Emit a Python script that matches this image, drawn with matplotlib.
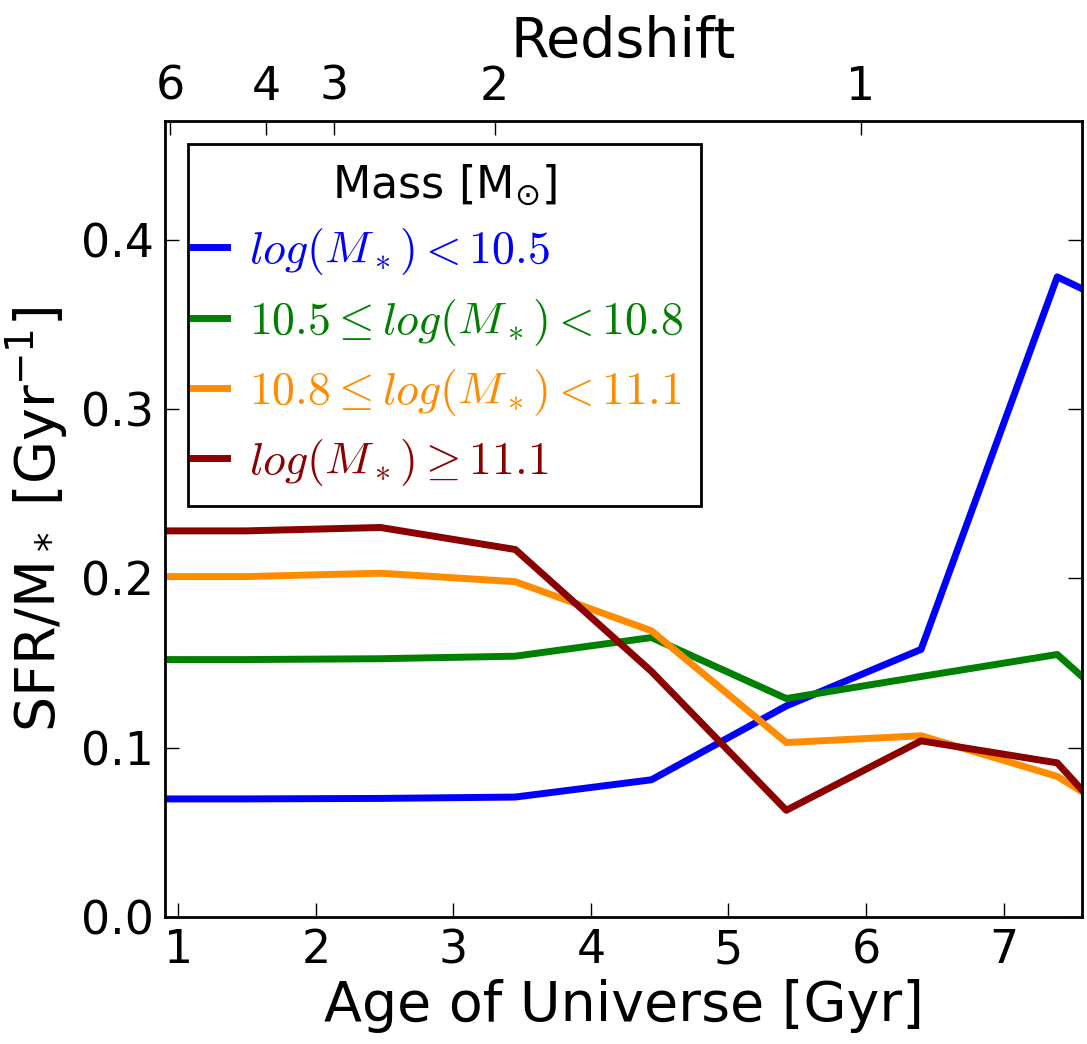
import matplotlib
matplotlib.use('Agg')
import matplotlib.pyplot as plt
from matplotlib.font_manager import FontProperties

# Age of universe at each bin (Gyr)
age = [0.905, 1.49, 2.47, 3.45, 4.44, 5.42, 6.40, 7.39, 7.57]

# specific SFR per mass bin (Gyr^-1)
ssfr_low = [0.0697, 0.0697, 0.0700, 0.0708, 0.081, 0.1246, 0.158, 0.378, 0.371]
ssfr_mid1 = [0.152, 0.152, 0.1525, 0.154, 0.165, 0.129, 0.142, 0.155, 0.142]
ssfr_mid2 = [0.201, 0.201, 0.203, 0.198, 0.169, 0.103, 0.107, 0.083, 0.074]
ssfr_high = [0.228, 0.228, 0.230, 0.217, 0.145, 0.063, 0.104, 0.091, 0.075]

labels = [r'$log(M_*) < 10.5$',
          r'$10.5 \leq log(M_*) < 10.8$',
          r'$10.8 \leq log(M_*) < 11.1$',
          r'$log(M_*) \geq 11.1$']
colors = ['#0000ff', '#008000', '#ff8c00', '#8b0000']

# redshift ticks for the top axis
z_labels = ['6', '4', '3', '2', '1']
z_ages = [0.94, 1.64, 2.13, 3.30, 5.96]

fig = plt.figure(figsize=(10.87, 10.44), dpi=100)
ax = fig.add_axes([0.152, 0.1217, 0.8434, 0.7623])

for y, lab, c in zip([ssfr_low, ssfr_mid1, ssfr_mid2, ssfr_high], labels, colors):
    ax.plot(age, y, color=c, lw=5, label=lab)

ax.set_xlim(0.905, 7.57)
ax.set_ylim(0, 0.47)
ax.set_xticks([1, 2, 3, 4, 5, 6, 7])
ax.set_yticks([0.0, 0.1, 0.2, 0.3, 0.4])
ax.tick_params(direction='in', length=10, width=1, labelsize=33, right=True, pad=8)
ax.set_xlabel('Age of Universe [Gyr]', fontsize=40, labelpad=4)
ax.set_ylabel(r'SFR/M$_*$ [Gyr$^{-1}$]', fontsize=40, labelpad=8)
for s in ax.spines.values():
    s.set_linewidth(2)

ax2 = ax.twiny()
ax2.set_xlim(ax.get_xlim())
ax2.set_xticks(z_ages)
ax2.set_xticklabels(z_labels)
ax2.tick_params(direction='in', length=10, width=1, labelsize=33, pad=8)
ax2.set_xlabel('Redshift', fontsize=40, labelpad=6)

prop = FontProperties(size=33, math_fontfamily='cm')
leg = ax.legend(loc='upper left', prop=prop, title=r'Mass [M$_{\odot}$]',
                title_fontsize=32, fancybox=False, handlelength=0.75,
                handletextpad=0.17, borderpad=0.4, labelspacing=0.42,
                bbox_to_anchor=(0.0, 1.0), borderaxespad=0.5)
leg.get_frame().set_edgecolor('black')
leg.get_frame().set_linewidth(2)
leg.get_frame().set_alpha(1)
for txt, c in zip(leg.get_texts(), colors):
    txt.set_color(c)
# handles sit right against the frame in the original
for h in leg.legend_handles:
    xd = h.get_xdata()
    h.set_xdata([v - 10 for v in xd])

fig.savefig('out.png', dpi=100)
